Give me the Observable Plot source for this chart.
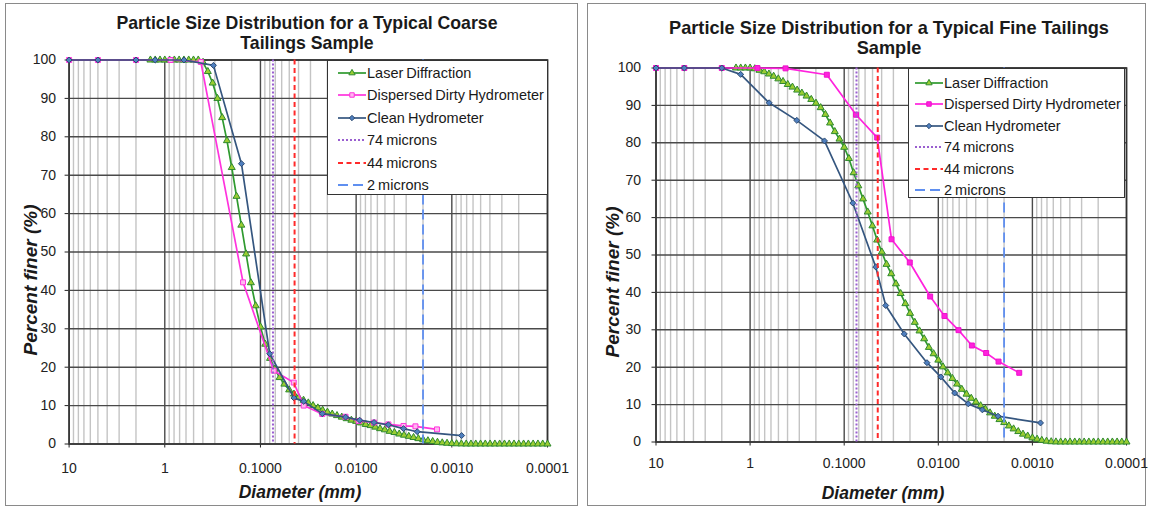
<!DOCTYPE html>
<html>
<head>
<meta charset="utf-8">
<script src="https://cdn.jsdelivr.net/npm/d3@7"></script>
<script src="https://cdn.jsdelivr.net/npm/@observablehq/plot@0.6"></script>
<style>
  html, body { margin: 0; padding: 0; background: #fff; }
  body { width: 1149px; height: 510px; position: relative; overflow: hidden;
         font-family: "Liberation Sans", Arial, sans-serif; color: #222; }
  .panel { position: absolute; border: 1px solid #8a8a8a; box-sizing: border-box; }
  .chart { position: absolute; top: 0; }
  .title { position: absolute; transform: translateX(-50%); white-space: nowrap; text-align: center;
           font-weight: bold; line-height: 20px; color: #1a1a1a; }
  .xlabel { position: absolute; transform: translate(-50%, -50%); white-space: nowrap;
            font-weight: bold; font-style: italic; font-size: 17.5px; color: #1a1a1a; }
  .ylabel { position: absolute; transform: translate(-50%, -50%) rotate(-90deg); white-space: nowrap;
            font-weight: bold; font-style: italic; font-size: 19px; color: #1a1a1a; }
  .legend { position: absolute; background: #fff; border: 1px solid #333; box-sizing: border-box; }
  .legend .row { position: absolute; left: 0; height: 16px; display: flex; align-items: center;
                 font-size: 14.5px; word-spacing: -1px; color: #1a1a1a; white-space: nowrap; }
</style>
</head>
<body>
<script>
// ---------------- DATA ----------------
const seriesNames = ["Laser Diffraction", "Dispersed Dirty Hydrometer", "Clean Hydrometer"];
const refNames = ["74 microns", "44 microns", "2 microns"];
const refDiameters = [0.074, 0.044, 0.002];

const xTickValues = [10, 1, 0.1, 0.01, 0.001, 0.0001];
const coarseXTickLabels = ["10", "1", "0.1000", "0.0100", "0.0010", "0.0001"];
const fineXTickLabels = ["10", "1", "0.1000", "0.0100", "0.0010", "0.0001"];
const yTickValues = [0, 10, 20, 30, 40, 50, 60, 70, 80, 90, 100];

const coarseTitle = ["Particle Size Distribution for a Typical Coarse", "Tailings Sample"];
const fineTitle = ["Particle Size Distribution for a Typical Fine Tailings", "Sample"];
const xAxisTitle = "Diameter (mm)";
const yAxisTitle = "Percent finer (%)";

// Laser diffraction size bins (mm), shared by both samples
const laserDiameter = [
  1.413, 1.259, 1.122, 1,
  0.8913, 0.7943, 0.7079, 0.6310, 0.5623, 0.5012, 0.4467, 0.3981, 0.3548, 0.3162,
  0.2818, 0.2512, 0.2239, 0.1995, 0.1778, 0.1585, 0.1413, 0.1259, 0.1122, 0.1,
  0.08913, 0.07943, 0.07079, 0.06310, 0.05623, 0.05012, 0.04467, 0.03981, 0.03548, 0.03162,
  0.02818, 0.02512, 0.02239, 0.01995, 0.01778, 0.01585, 0.01413, 0.01259, 0.01122, 0.01,
  0.008913, 0.007943, 0.007079, 0.006310, 0.005623, 0.005012, 0.004467, 0.003981, 0.003548, 0.003162,
  0.002818, 0.002512, 0.002239, 0.001995, 0.001778, 0.001585, 0.001413, 0.001259, 0.001122, 0.001,
  0.0008913, 0.0007943, 0.0007079, 0.0006310, 0.0005623, 0.0005012, 0.0004467, 0.0003981, 0.0003548, 0.0003162,
  0.0002818, 0.0002512, 0.0002239, 0.0001995, 0.0001778, 0.0001585, 0.0001413, 0.0001259, 0.0001122, 0.0001
];

// Coarse sample
const coarseLaser = [
  100, 100, 100, 100,
  100, 100, 100, 100, 100, 100, 100, 99.4, 97, 94,
  90, 85, 79, 72, 64.5, 57, 49.5, 42, 36, 30.5,
  26, 22.3, 19.5, 17.3, 15.6, 14.1, 13.0, 12.1, 11.4, 10.7,
  10.0, 9.4, 8.8, 8.3, 7.8, 7.4, 7.0, 6.6, 6.2, 5.9,
  5.5, 5.1, 4.8, 4.4, 4.0, 3.7, 3.3, 3.0, 2.6, 2.3,
  2.0, 1.7, 1.4, 1.1, 0.85, 0.65, 0.45, 0.3, 0.2, 0.12,
  0.06, 0.03, 0, 0, 0, 0, 0, 0, 0, 0,
  0, 0, 0, 0, 0, 0, 0, 0, 0, 0
];
const coarseDirtyDiameter = [10, 5, 2, 0.87, 0.42, 0.152, 0.0726, 0.0449, 0.0353, 0.0226, 0.0129, 0.0094, 0.0065, 0.0046, 0.0032, 0.0024, 0.00143];
const coarseDirty = [100, 100, 100, 100, 99.5, 42.1, 19.1, 16.0, 10.0, 7.8, 7.1, 6.0, 5.6, 5.1, 4.7, 4.6, 3.8];
const coarseCleanDiameter = [10, 5, 2, 1.26, 0.63, 0.31, 0.158, 0.080, 0.0447, 0.0353, 0.0226, 0.0129, 0.0092, 0.0065, 0.0046, 0.0032, 0.0023, 0.00079];
const coarseClean = [100, 100, 100, 100, 100, 98.6, 73, 23.5, 12.0, 11.1, 7.9, 7.0, 6.2, 5.6, 5.0, 4.0, 3.2, 2.2];

// Fine sample
const fineLaser = [
  100, 100, 100, 100,
  99.8, 99.4, 99.0, 98.4, 97.8, 97.1, 96.4, 95.6, 94.9, 94.1,
  93.3, 92.5, 91.6, 90.6, 89.4, 87.6, 85.3, 83.0, 81.0, 78.8,
  75.8, 72.0, 68.5, 65.0, 61.5, 57.8, 54.0, 50.8, 47.5, 45.0,
  42.3, 39.7, 37.0, 34.4, 32.0, 29.7, 27.6, 25.3, 23.6, 21.9,
  20.1, 18.5, 17.0, 15.5, 14.1, 12.8, 11.7, 10.7, 9.7, 8.8,
  7.8, 6.9, 6.0, 5.2, 4.3, 3.5, 2.8, 2.1, 1.6, 1.1,
  0.75, 0.45, 0.22, 0.08, 0.02, 0, 0, 0, 0, 0,
  0, 0, 0, 0, 0, 0, 0, 0, 0, 0
];
const fineDirtyDiameter = [10, 5, 2, 0.836, 0.42, 0.153, 0.0748, 0.0446, 0.0314, 0.0201, 0.0122, 0.0086, 0.0061, 0.0044, 0.0031, 0.00229, 0.00138];
const fineDirty = [100, 100, 100, 100, 99.9, 98.2, 87.5, 81.4, 54.2, 48.0, 38.9, 33.7, 29.9, 25.8, 23.8, 21.5, 18.5];
const fineCleanDiameter = [10, 5, 2, 1.26, 0.628, 0.319, 0.162, 0.081, 0.0462, 0.0362, 0.0230, 0.0132, 0.0094, 0.0067, 0.0048, 0.0034, 0.00232, 0.00082];
const fineClean = [100, 100, 100, 98.3, 90.7, 86.0, 80.5, 63.9, 46.8, 36.5, 28.9, 21.2, 17.4, 13.1, 10.2, 8.6, 6.9, 5.1];

// ---------------- STYLES ----------------
const laserStyle = { stroke: "#2f9a2f", fill: "#9acd32", symbol: "triangle", r: 2.6, markerStroke: "#2f8a2f" };
const dirtyStyleCoarse = { stroke: "#ff33dd", fill: "#ffb8f0", symbol: "square", r: 2.8, markerStroke: "#ff33dd" };
const dirtyStyleFine = { stroke: "#ff22dd", fill: "#ff22dd", symbol: "square", r: 2.8, markerStroke: "#ee11cc" };
const cleanStyle = { stroke: "#35567f", fill: "#4f7fbf", symbol: "diamond2", r: 2.7, markerStroke: "#2c4a70" };
const refStyles = [
  { stroke: "#9a5fd0", dash: "2,2", width: 2 },
  { stroke: "#ff2a2a", dash: "5,3.5", width: 2 },
  { stroke: "#5f8ff0", dash: "10,5", width: 1.8 }
];

const rows = (xs, ys) => xs.map((d, i) => ({ d, v: ys[i] }));

// minor log grid positions (2..9 per decade)
const minorTicks = [];
for (const top of xTickValues.slice(0, 5)) for (let k = 2; k <= 9; k++) minorTicks.push(+(k * top / 10).toPrecision(4));

function seriesMarks(data, st) {
  return [
    Plot.line(data, { x: "d", y: "v", stroke: st.stroke, strokeWidth: 1.7 }),
    Plot.dot(data, { x: "d", y: "v", symbol: st.symbol, r: st.r, fill: st.fill, stroke: st.markerStroke, strokeWidth: 1 })
  ];
}

function buildChart(cfg) {
  const labelMap = new Map(xTickValues.map((t, i) => [t, cfg.xLabels[i]]));
  return Plot.plot({
    width: cfg.width, height: 510,
    marginLeft: cfg.ml, marginRight: cfg.mr, marginTop: cfg.mt, marginBottom: cfg.mb,
    style: { fontFamily: "'Liberation Sans', Arial, sans-serif", fontSize: "14px", color: "#222", background: "transparent", overflow: "visible" },
    x: { type: "log", domain: [10, 0.0001], ticks: xTickValues, tickFormat: d => labelMap.get(d), tickSize: 4, tickPadding: cfg.xPad, label: null },
    y: { domain: [0, 100], ticks: yTickValues, tickSize: 4, tickPadding: cfg.yPad, label: null },
    marks: [
      Plot.ruleX(minorTicks, { stroke: "#c4c4c4", strokeWidth: 1.4 }),
      Plot.ruleX(xTickValues, { stroke: "#4a4a4a", strokeWidth: 1.4 }),
      Plot.ruleY(yTickValues, { stroke: "#4a4a4a", strokeWidth: 1.4 }),
      Plot.frame({ stroke: "#333", strokeWidth: 1.6 }),
      ...seriesMarks(rows(laserDiameter, cfg.laser), laserStyle),
      ...seriesMarks(rows(cfg.dirtyD, cfg.dirty), cfg.dirtyStyle),
      ...seriesMarks(rows(cfg.cleanD, cfg.clean), cleanStyle),
      ...refDiameters.map((r, i) => Plot.ruleX([r], { stroke: refStyles[i].stroke, strokeWidth: refStyles[i].width, strokeDasharray: refStyles[i].dash }))
    ]
  });
}

function add(el) { document.body.appendChild(el); return el; }
function div(cls, css, html) {
  const e = document.createElement("div");
  e.className = cls; Object.assign(e.style, css); if (html != null) e.innerHTML = html; return e;
}

function symbolPath(name, r) {
  const map = { triangle: d3.symbolTriangle, square: d3.symbolSquare, diamond2: d3.symbolDiamond2 };
  return d3.symbol(map[name], Math.PI * r * r)();
}

function buildLegend(cfg, dirtyStyle) {
  const box = add(div("legend", { left: cfg.left + "px", top: cfg.top + "px", width: cfg.w + "px", height: cfg.h + "px" }));
  const entries = [
    { name: seriesNames[0], st: laserStyle, marker: true },
    { name: seriesNames[1], st: dirtyStyle, marker: true },
    { name: seriesNames[2], st: cleanStyle, marker: true },
    ...refNames.map((n, i) => ({ name: n, st: { stroke: refStyles[i].stroke, dash: refStyles[i].dash, width: refStyles[i].width }, marker: false }))
  ];
  entries.forEach((e, i) => {
    const row = div("row", { top: (cfg.first + i * cfg.step - 8) + "px", left: cfg.lineX + "px" });
    const L = cfg.lineLen;
    let svg = `<svg width="${L}" height="16" style="display:block;overflow:visible">` +
      `<line x1="0" x2="${L}" y1="8" y2="8" stroke="${e.st.stroke}" stroke-width="${e.st.width || 1.7}" ${e.st.dash ? `stroke-dasharray="${e.st.dash}"` : ""}/>`;
    if (e.marker) svg += `<path transform="translate(${L / 2},8)" d="${symbolPath(e.st.symbol, e.st.r * 0.9)}" fill="${e.st.fill}" stroke="${e.st.markerStroke}" stroke-width="1"/>`;
    svg += `</svg>`;
    row.innerHTML = svg + `<span style="margin-left:1px">${e.name}</span>`;
    box.appendChild(row);
  });
}

// ---------------- PANELS ----------------
add(div("panel", { left: "5px", top: "3px", width: "573px", height: "503px" }));
add(div("panel", { left: "587px", top: "3px", width: "559px", height: "503px" }));

const left = buildChart({
  width: 580, ml: 68.6, mr: 33, mt: 59.5, mb: 66.5, xPad: 15, yPad: 9,
  xLabels: coarseXTickLabels, laser: coarseLaser,
  dirtyD: coarseDirtyDiameter, dirty: coarseDirty, dirtyStyle: dirtyStyleCoarse,
  cleanD: coarseCleanDiameter, clean: coarseClean
});
left.classList.add("chart"); left.style.left = "0px"; add(left);

const right = buildChart({
  width: 569, ml: 75.5, mr: 23, mt: 67.5, mb: 68.5, xPad: 12, yPad: 11,
  xLabels: fineXTickLabels, laser: fineLaser,
  dirtyD: fineDirtyDiameter, dirty: fineDirty, dirtyStyle: dirtyStyleFine,
  cleanD: fineCleanDiameter, clean: fineClean
});
right.classList.add("chart"); right.style.left = "580px"; add(right);

// titles & axis labels
add(div("title", { left: "307px", top: "13px", fontSize: "17.7px" }, coarseTitle.join("<br>")));
add(div("title", { left: "889px", top: "18px", fontSize: "18.2px" }, fineTitle.join("<br>")));
add(div("xlabel", { left: "300px", top: "492px" }, xAxisTitle));
add(div("xlabel", { left: "883px", top: "493px" }, xAxisTitle));
add(div("ylabel", { left: "31px", top: "280px" }, yAxisTitle));
add(div("ylabel", { left: "613px", top: "282px" }, yAxisTitle));

// legends
buildLegend({ left: 327, top: 60, w: 221, h: 135, first: 12, step: 22.4, lineX: 10, lineLen: 28 }, dirtyStyleCoarse);
buildLegend({ left: 908, top: 68, w: 217, h: 130, first: 13.7, step: 21.5, lineX: 6, lineLen: 28 }, dirtyStyleFine);
</script>
</body>
</html>
